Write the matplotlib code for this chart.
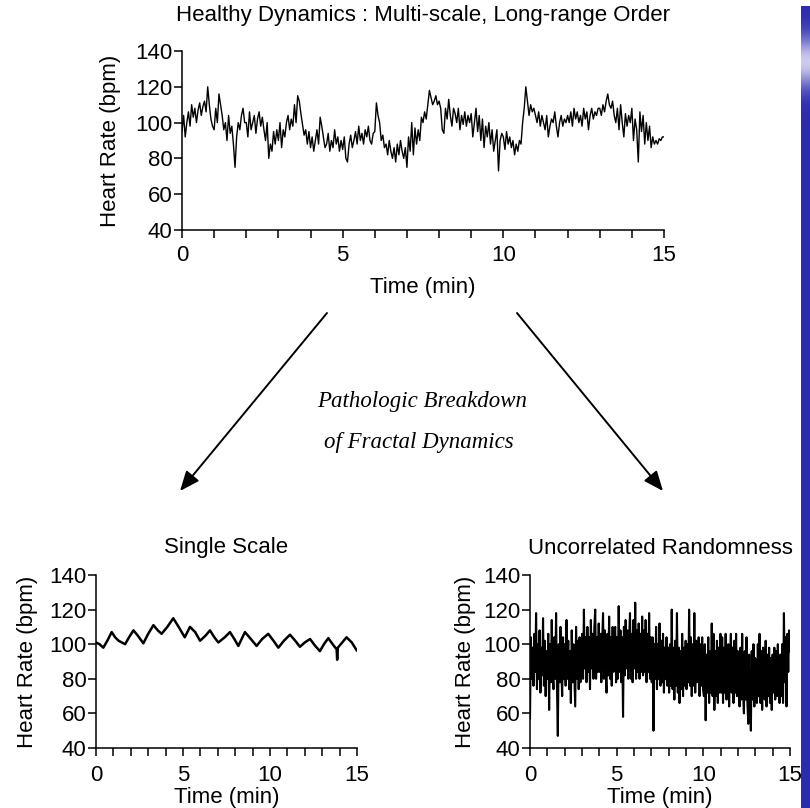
import numpy as np
import matplotlib
matplotlib.use("Agg")
import matplotlib.pyplot as plt
from matplotlib.patches import FancyArrowPatch
from matplotlib.ticker import MultipleLocator, FixedLocator

# ---------------- data ----------------
title_top = "Healthy Dynamics : Multi-scale, Long-range Order"
title_bl = "Single Scale"
title_br = "Uncorrelated Randomness"
middle_lines = ["Pathologic Breakdown", "of Fractal Dynamics"]
ylabel = "Heart Rate (bpm)"
xlabel = "Time (min)"
x_major = [0, 5, 10, 15]
y_ticks = [40, 60, 80, 100, 120, 140]

# healthy: 20 samples per minute
healthy_hr = [
    95, 104, 92, 100, 106, 98, 110, 103, 108, 100, 107, 111, 104, 109, 112, 106, 120, 110, 102, 98,
    96, 108, 100, 116, 110, 104, 96, 100, 90, 104, 94, 98, 88, 75, 92, 100, 96, 104, 108, 100,
    100, 92, 106, 96, 100, 104, 94, 102, 106, 98, 103, 96, 90, 100, 80, 88, 84, 95, 88, 96,
    90, 100, 86, 96, 92, 100, 104, 96, 102, 98, 110, 100, 115, 112, 105, 99, 93, 96, 88, 95,
    86, 92, 84, 90, 96, 88, 103, 98, 92, 86, 88, 94, 84, 90, 86, 96, 88, 92, 84, 90,
    85, 92, 80, 78, 88, 93, 86, 90, 95, 88, 98, 90, 94, 88, 96, 92, 98, 90, 88, 94,
    95, 111, 104, 100, 90, 93, 86, 88, 82, 90, 84, 80, 86, 78, 88, 82, 90, 84, 80, 86,
    75, 92, 84, 100, 82, 97, 88, 96, 90, 103, 100, 106, 102, 110, 118, 114, 110, 112, 115, 110,
    112, 108, 96, 94, 108, 102, 113, 104, 98, 108, 105, 100, 108, 96, 104, 99, 106, 98, 104, 100,
    105, 92, 100, 108, 95, 104, 90, 102, 86, 98, 92, 100, 88, 96, 84, 90, 96, 73, 90, 94,
    92, 85, 95, 88, 92, 86, 90, 82, 88, 84, 90, 88, 100, 108, 120, 112, 104, 110, 106, 108,
    104, 100, 106, 98, 104, 100, 96, 104, 92, 98, 102, 100, 106, 98, 92, 100, 104, 98, 102, 100,
    104, 100, 106, 98, 108, 102, 106, 100, 104, 98, 108, 102, 106, 96, 104, 108, 102, 106, 104, 108,
    108, 104, 110, 106, 112, 116, 110, 108, 112, 104, 100, 108, 96, 110, 100, 92, 105, 98, 104, 100,
    108, 90, 102, 96, 78, 106, 95, 104, 88, 100, 90, 98, 86, 92, 88, 90, 88, 91, 90, 92,
    92,
]

single_t = [0, 0.2, 0.42, 0.65, 0.9, 1.1, 1.3, 1.67, 1.9, 2.15, 2.4, 2.72, 3.0, 3.3,
            3.55, 3.77, 4.1, 4.44, 4.75, 5.1, 5.4, 5.7, 5.98, 6.3, 6.55, 6.8, 7.03,
            7.4, 7.7, 7.95, 8.18, 8.56, 8.9, 9.23, 9.55, 9.9, 10.2, 10.48, 10.8,
            11.15, 11.45, 11.72, 12.0, 12.3, 12.6, 12.87, 13.1, 13.35, 13.6, 13.83,
            13.86, 13.9, 14.15, 14.4, 14.7, 14.98]
single_hr = [101, 100, 98, 102, 107, 104, 102, 100, 104, 108, 105, 100.5, 106, 111,
             108, 106, 110, 115, 110, 104, 110, 107, 102, 105, 108, 104, 101,
             104, 107, 103, 99, 107, 103, 99, 103, 106, 102, 98, 102,
             105.5, 102, 98.5, 101, 103, 99, 96, 100, 103.5, 100, 97,
             91, 98, 101, 104, 101, 96.5]

# uncorrelated: 20 samples per minute
random_hr = [
    57, 104, 80, 98, 76, 106, 84, 118, 74, 100, 80, 108, 72, 98, 82, 115, 76, 102, 70, 96,
    80, 106, 62, 100, 78, 114, 84, 74, 104, 80, 118, 76, 47, 100, 78, 110, 84, 70, 104, 80,
    100, 76, 114, 80, 102, 74, 96, 66, 108, 78, 100, 82, 64, 110, 80, 102, 74, 104, 78, 98,
    106, 80, 120, 86, 104, 78, 110, 84, 104, 74, 114, 86, 106, 80, 110, 120, 80, 104, 84, 112,
    84, 106, 78, 102, 118, 80, 108, 84, 72, 106, 82, 116, 80, 104, 76, 110, 84, 106, 110, 78,
    104, 80, 122, 84, 108, 78, 104, 58, 110, 82, 114, 86, 108, 80, 104, 118, 80, 106, 78, 114,
    86, 124, 80, 108, 84, 112, 80, 106, 84, 116, 82, 108, 84, 114, 78, 106, 84, 118, 80, 104,
    78, 104, 50, 100, 80, 110, 74, 100, 80, 112, 76, 102, 78, 106, 72, 98, 80, 104, 76, 98,
    72, 100, 76, 120, 74, 98, 68, 102, 76, 118, 72, 98, 66, 96, 74, 106, 70, 98, 76, 102,
    74, 100, 78, 120, 76, 104, 70, 100, 76, 118, 72, 102, 78, 96, 104, 70, 100, 76, 104, 74,
    70, 100, 56, 94, 72, 104, 66, 96, 72, 112, 70, 106, 62, 96, 70, 102, 66, 98, 72, 106,
    72, 104, 66, 98, 72, 106, 68, 96, 100, 64, 90, 106, 72, 98, 66, 102, 72, 106, 70, 96,
    76, 64, 98, 68, 106, 72, 60, 96, 68, 104, 66, 54, 94, 70, 50, 96, 68, 100, 64, 92,
    74, 66, 100, 70, 106, 66, 96, 62, 98, 70, 68, 102, 64, 94, 70, 98, 66, 92, 62, 94,
    72, 98, 68, 96, 70, 100, 74, 66, 94, 70, 100, 66, 118, 78, 104, 64, 106, 84, 108, 96,
]

healthy_t = np.linspace(0, 15, len(healthy_hr))
random_t = np.linspace(0, 15, len(random_hr))

# ---------------- figure ----------------
W, H = 810, 808
fig = plt.figure(figsize=(W / 100, H / 100), dpi=100)
SANS = ["Liberation Sans", "DejaVu Sans"]
plt.rcParams["font.family"] = SANS
FS = 16


def px(x0, y0, x1, y1):
    return [x0 / W, 1 - y1 / H, (x1 - x0) / W, (y1 - y0) / H]


def style(ax, ylab_pad, xlab_pad, xpad):
    ax.set_xlim(0, 15)
    ax.set_ylim(40, 140)
    for s in ("top", "right"):
        ax.spines[s].set_visible(False)
    for s in ("left", "bottom"):
        ax.spines[s].set_linewidth(1.1)
    ax.xaxis.set_major_locator(FixedLocator(x_major))
    ax.xaxis.set_minor_locator(MultipleLocator(1))
    ax.yaxis.set_major_locator(FixedLocator(y_ticks))
    ax.tick_params(axis="both", which="both", direction="out", width=1.1,
                   labelsize=FS, colors="black")
    ax.tick_params(axis="x", which="both", length=6)
    ax.tick_params(axis="y", which="major", length=6, pad=1)
    ax.tick_params(axis="x", which="major", pad=xpad)
    ax.set_ylabel(ylabel, fontsize=FS, labelpad=ylab_pad)
    ax.set_xlabel(xlabel, fontsize=FS, labelpad=xlab_pad)
    ax.patch.set_visible(False)


ax_top = fig.add_axes(px(182, 51, 664, 230))
ax_top.plot(healthy_t, healthy_hr, color="black", lw=1.0)
style(ax_top, 10, 8, 5)

ax_bl = fig.add_axes(px(96, 575, 357, 748))
ax_bl.plot(single_t, single_hr, color="black", lw=1.8)
style(ax_bl, 8, 1, 6)

ax_br = fig.add_axes(px(530, 575, 790, 748))
ax_br.plot(random_t, random_hr, color="black", lw=1.5)
style(ax_br, 5, 1, 6)

fig.text(423 / W, 1 - 16 / H, title_top, ha="center", va="center", fontsize=FS)
fig.text(226 / W, 1 - 548 / H, title_bl, ha="center", va="center", fontsize=FS)
fig.text(660 / W, 1 - 548 / H, title_br, ha="center", va="center", fontsize=FS)

SERIF = ["Liberation Serif", "DejaVu Serif"]
fig.text(422 / W, 1 - 401 / H, middle_lines[0], ha="center", va="center",
         fontsize=16.5, style="italic", family=SERIF)
fig.text(419 / W, 1 - 442 / H, middle_lines[1], ha="center", va="center",
         fontsize=16.5, style="italic", family=SERIF)

arrow_kw = dict(arrowstyle="-|>,head_length=0.6,head_width=0.25", color="black",
                lw=1.4, shrinkA=0, shrinkB=0, mutation_scale=20,
                transform=fig.transFigure)
fig.add_artist(FancyArrowPatch((327 / W, 1 - 313 / H), (180 / W, 1 - 491 / H),
                               **arrow_kw))
fig.add_artist(FancyArrowPatch((517 / W, 1 - 313 / H), (663 / W, 1 - 491 / H),
                               **arrow_kw))

# blue bar on the right edge
bar = fig.add_axes(px(801, 6, 810, 808))
grad = np.ones((200, 1, 3))
base = np.array([0.17, 0.17, 0.68])
light = np.array([0.80, 0.80, 0.93])
yy = np.linspace(6, 808, 200)
for i, y in enumerate(yy):
    w = np.exp(-((y - 60) / 25.0) ** 2)
    grad[i, 0] = base * (1 - w) + light * w
bar.imshow(grad, aspect="auto", interpolation="bilinear")
bar.set_axis_off()

fig.savefig("out.png", dpi=100)
